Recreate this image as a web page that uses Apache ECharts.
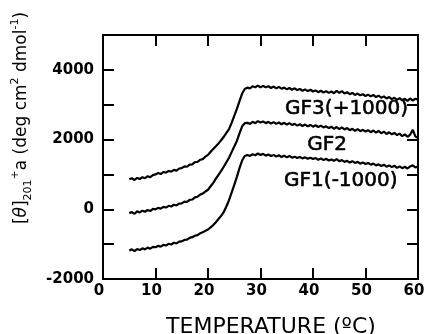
<!DOCTYPE html>
<html>
<head>
<meta charset="utf-8">
<script src="https://cdn.jsdelivr.net/npm/echarts@6/dist/echarts.min.js"></script>
<style>
  html, body {margin: 0; padding: 0; background: #fff;}
  #chart {width: 425px; height: 334px;}
</style>
</head>
<body>
<div id="chart"></div>
<script>
// temperature grid (ºC), one row = 5 degrees
const temps = [
  5, 5.5, 6, 6.5, 7, 7.5, 8, 8.5, 9, 9.5,
  10, 10.5, 11, 11.5, 12, 12.5, 13, 13.5, 14, 14.5,
  15, 15.5, 16, 16.5, 17, 17.5, 18, 18.5, 19, 19.5,
  20, 20.5, 21, 21.5, 22, 22.5, 23, 23.5, 24, 24.5,
  25, 25.5, 26, 26.5, 27, 27.5, 28, 28.5, 29, 29.5,
  30, 30.5, 31, 31.5, 32, 32.5, 33, 33.5, 34, 34.5,
  35, 35.5, 36, 36.5, 37, 37.5, 38, 38.5, 39, 39.5,
  40, 40.5, 41, 41.5, 42, 42.5, 43, 43.5, 44, 44.5,
  45, 45.5, 46, 46.5, 47, 47.5, 48, 48.5, 49, 49.5,
  50, 50.5, 51, 51.5, 52, 52.5, 53, 53.5, 54, 54.5,
  55, 55.5, 56, 56.5, 57, 57.5, 58, 58.5, 59, 59.5,
  60
];

const gf3 = [
  860, 890, 840, 900, 870, 920, 890, 950, 920, 980,
  1000, 1040, 1010, 1070, 1050, 1100, 1080, 1130, 1110, 1170,
  1180, 1230, 1220, 1280, 1290, 1350, 1360, 1420, 1440, 1510,
  1560, 1650, 1730, 1810, 1890, 1980, 2080, 2190, 2300, 2480,
  2680, 2880, 3100, 3320, 3450, 3490, 3470, 3530, 3500, 3550,
  3500, 3540, 3500, 3530, 3480, 3520, 3470, 3510, 3460, 3490,
  3440, 3480, 3430, 3470, 3420, 3450, 3400, 3440, 3390, 3430,
  3380, 3410, 3360, 3400, 3350, 3390, 3340, 3380, 3330, 3400,
  3340, 3390, 3320, 3360, 3300, 3340, 3280, 3320, 3270, 3300,
  3250, 3290, 3240, 3280, 3220, 3260, 3200, 3240, 3180, 3220,
  3160, 3200, 3140, 3190, 3120, 3170, 3110, 3180, 3120, 3170,
  3140
];

const gf2 = [
  -110, -80, -130, -60, -90, -40, -70, -20, -50, 10,
  0, 40, 20, 70, 50, 100, 80, 130, 110, 160,
  170, 220, 210, 270, 280, 340, 360, 420, 450, 510,
  560, 660, 760, 880, 990, 1100, 1220, 1350, 1480, 1640,
  1800, 1960, 2180, 2380, 2470, 2480, 2450, 2510, 2470, 2530,
  2490, 2520, 2470, 2510, 2460, 2500, 2450, 2490, 2440, 2480,
  2430, 2470, 2420, 2450, 2400, 2440, 2390, 2430, 2380, 2420,
  2370, 2410, 2360, 2400, 2350, 2380, 2330, 2370, 2310, 2360,
  2300, 2350, 2290, 2330, 2270, 2310, 2250, 2300, 2240, 2280,
  2230, 2270, 2210, 2260, 2200, 2250, 2180, 2230, 2160, 2210,
  2150, 2190, 2130, 2170, 2100, 2150, 2080, 2140, 2280, 2090,
  2050
];

const gf1 = [
  -1180, -1150, -1200, -1140, -1170, -1120, -1150, -1100, -1130, -1080,
  -1090, -1050, -1070, -1020, -1040, -990, -1010, -960, -980, -930,
  -920, -880, -870, -820, -800, -760, -740, -690, -660, -620,
  -580, -520, -450, -370, -280, -190, -80, 80, 260, 480,
  700, 930, 1180, 1400, 1530, 1560, 1530, 1580, 1550, 1600,
  1560, 1590, 1540, 1570, 1530, 1560, 1510, 1550, 1500, 1540,
  1490, 1530, 1480, 1510, 1470, 1500, 1460, 1490, 1450, 1480,
  1440, 1470, 1420, 1460, 1410, 1450, 1400, 1430, 1390, 1440,
  1380, 1410, 1360, 1390, 1340, 1380, 1330, 1360, 1310, 1340,
  1300, 1330, 1280, 1310, 1260, 1290, 1240, 1280, 1220, 1260,
  1210, 1250, 1190, 1230, 1180, 1220, 1170, 1230, 1260, 1200,
  1230
];

// curve labels, placed in data coordinates
const labelNames = ['GF3(+1000)', 'GF2', 'GF1(-1000)'];
const labelX = [46.4, 42.7, 45.3];
const labelY = [2877, 1860, 826];

const chart = echarts.init(document.getElementById('chart'));

const tickStyle = {inside: true, length: 11, lineStyle: {color: '#000', width: 2}};
const lineAxis = {onZero: false, lineStyle: {color: '#000', width: 2}};
const tickFont = {color: '#000', fontFamily: 'DejaVu Sans', fontWeight: 'bold', fontSize: 15};

const curve = (name, vals) => ({
  name: name,
  type: 'line',
  data: temps.map((t, i) => [t, vals[i]]),
  showSymbol: false,
  lineStyle: {color: '#000', width: 2.2},
  animation: false
});

const option = {
  animation: false,
  grid: {
    left: 103, right: 7, top: 35, bottom: 55,
    outerBoundsMode: 'none', containLabel: false,
    show: true, borderColor: '#000', borderWidth: 2
  },
  xAxis: [
    {
      type: 'value', min: 0, max: 60, interval: 10,
      axisLine: lineAxis, axisTick: tickStyle, splitLine: {show: false},
      axisLabel: Object.assign({margin: 5, padding: [0, 8, 0, 0]}, tickFont),
      name: 'TEMPERATURE (ºC)', nameLocation: 'middle', nameGap: 37,
      nameTextStyle: {color: '#000', fontFamily: 'DejaVu Sans', fontSize: 22, padding: [0, 0, 0, 21]}
    },
    {
      type: 'value', position: 'top', min: 0, max: 60, interval: 10,
      axisLine: lineAxis, axisTick: tickStyle, splitLine: {show: false},
      axisLabel: {show: false}
    }
  ],
  yAxis: [
    {
      type: 'value', min: -2000, max: 5000, interval: 1000,
      axisLine: lineAxis, axisTick: tickStyle, splitLine: {show: false},
      axisLabel: Object.assign({margin: 9, formatter: v => (v % 2000 === 0 ? String(v) : '')}, tickFont)
    },
    {
      type: 'value', position: 'right', min: -2000, max: 5000, interval: 1000,
      axisLine: lineAxis, axisTick: tickStyle, splitLine: {show: false},
      axisLabel: {show: false}
    }
  ],
  graphic: [
    {
      type: 'text', x: 22, y: 118, rotation: Math.PI / 2,
      style: {
        text: '{t|[}{i|θ}{t|]}{s|201}{p|+}{t|a (deg cm}{p|2}{t| dmol}{p|-1}{t|)}',
        align: 'center', verticalAlign: 'middle', fill: '#000',
        rich: {
          t: {fontFamily: 'DejaVu Sans', fontSize: 17, lineHeight: 24, fill: '#000'},
          i: {fontFamily: 'DejaVu Sans', fontStyle: 'italic', fontSize: 17, lineHeight: 24, fill: '#000'},
          s: {fontFamily: 'DejaVu Sans', fontSize: 11, lineHeight: 12, verticalAlign: 'bottom', fill: '#000'},
          p: {fontFamily: 'DejaVu Sans', fontSize: 11, lineHeight: 12, verticalAlign: 'top', fill: '#000'}
        }
      }
    }
  ],
  series: [
    curve('GF3', gf3),
    curve('GF2', gf2),
    curve('GF1', gf1),
    {
      type: 'scatter',
      symbolSize: 0,
      itemStyle: {opacity: 1},
      data: labelNames.map((n, i) => ({name: n, value: [labelX[i], labelY[i]]})),
      label: {
        show: true, position: 'inside', formatter: p => p.name,
        color: '#000', opacity: 1, fontFamily: 'DejaVu Sans', fontSize: 20,
        textBorderColor: '#000', textBorderWidth: 0.6
      },
      silent: true
    }
  ]
};

chart.setOption(option);
</script>
</body>
</html>
